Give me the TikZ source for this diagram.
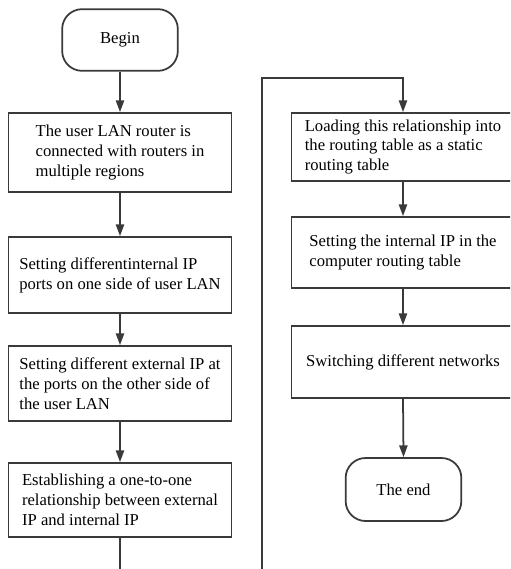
\documentclass[tikz,border=0pt]{standalone}
\usepackage{fontspec}
\setmainfont{Liberation Serif}
\usepackage{tikz}
\usetikzlibrary{arrows.meta, positioning}
\definecolor{linegray}{HTML}{3A3A3A}

\begin{document}
\begin{tikzpicture}[
    x=0.03cm, y=-0.03cm,
    >={Triangle[length=10pt, width=7pt]},
    every node/.style={font=\rmfamily\fontsize{14.2}{17}\selectfont, align=left},
    arr/.style={->, draw=linegray, line width=1.5pt},
    stepbox/.style={
      rectangle, draw=linegray, line width=1.5pt,
      minimum width=6.69cm, inner sep=0pt
    },
    terminal/.style={
      rectangle, rounded corners=17pt, draw=linegray, line width=1.5pt,
      minimum width=3.47cm, minimum height=1.85cm
    }
  ]
    \useasboundingbox (0,0) rectangle (510,569);
    \clip (0,0) rectangle (510,569);

    % Left column
    \node[terminal] (begin) at (120,40) {Begin};
    \node[stepbox, minimum height=2.37cm] (conn) at (120,152.5)
      {The user LAN router is\\connected with routers in\\multiple regions};
    \node[stepbox, minimum height=2.28cm] (intip) at (120,275)
      {Setting differentinternal IP\\ports on one side of user LAN};
    \node[stepbox, minimum height=2.25cm] (extip) at (120,383.5)
      {Setting different external IP at\\the ports on the other side of\\the user LAN};
    \node[stepbox, minimum height=2.22cm] (relate) at (120,500)
      {Establishing a one-to-one\\relationship between external\\IP and internal IP};

    \draw[arr] (begin.south) -- (conn.north);
    \draw[arr] (conn.south) -- (intip.north);
    \draw[arr] (intip.south) -- (extip.north);
    \draw[arr] (extip.south) -- (relate.north);

    % Right column
    \node[stepbox, minimum height=2.04cm] (load) at (403,147)
      {Loading this relationship into\\the routing table as a static\\routing table};
    \node[stepbox, minimum height=2.13cm] (setint) at (403,252.5)
      {Setting the internal IP in the\\computer routing table};
    \node[stepbox, minimum height=2.16cm] (switch) at (403,362)
      {Switching different networks};
    \node[terminal, minimum height=1.89cm] (theend) at (403.5,489.5) {The end};

    \draw[arr] (load.south) -- (setint.north);
    \draw[arr] (setint.south) -- (switch.north);
    \draw[arr] (switch.south) -- (theend.north);

    % link between the columns
    \coordinate (downL) at (120,585);
    \coordinate (downR) at (262,585);
    \coordinate (upR)   at (262,78);
    \draw[arr] (relate.south) -- (downL) -- (downR) -- (upR) -| (load.north);

  \end{tikzpicture}
\end{document}
